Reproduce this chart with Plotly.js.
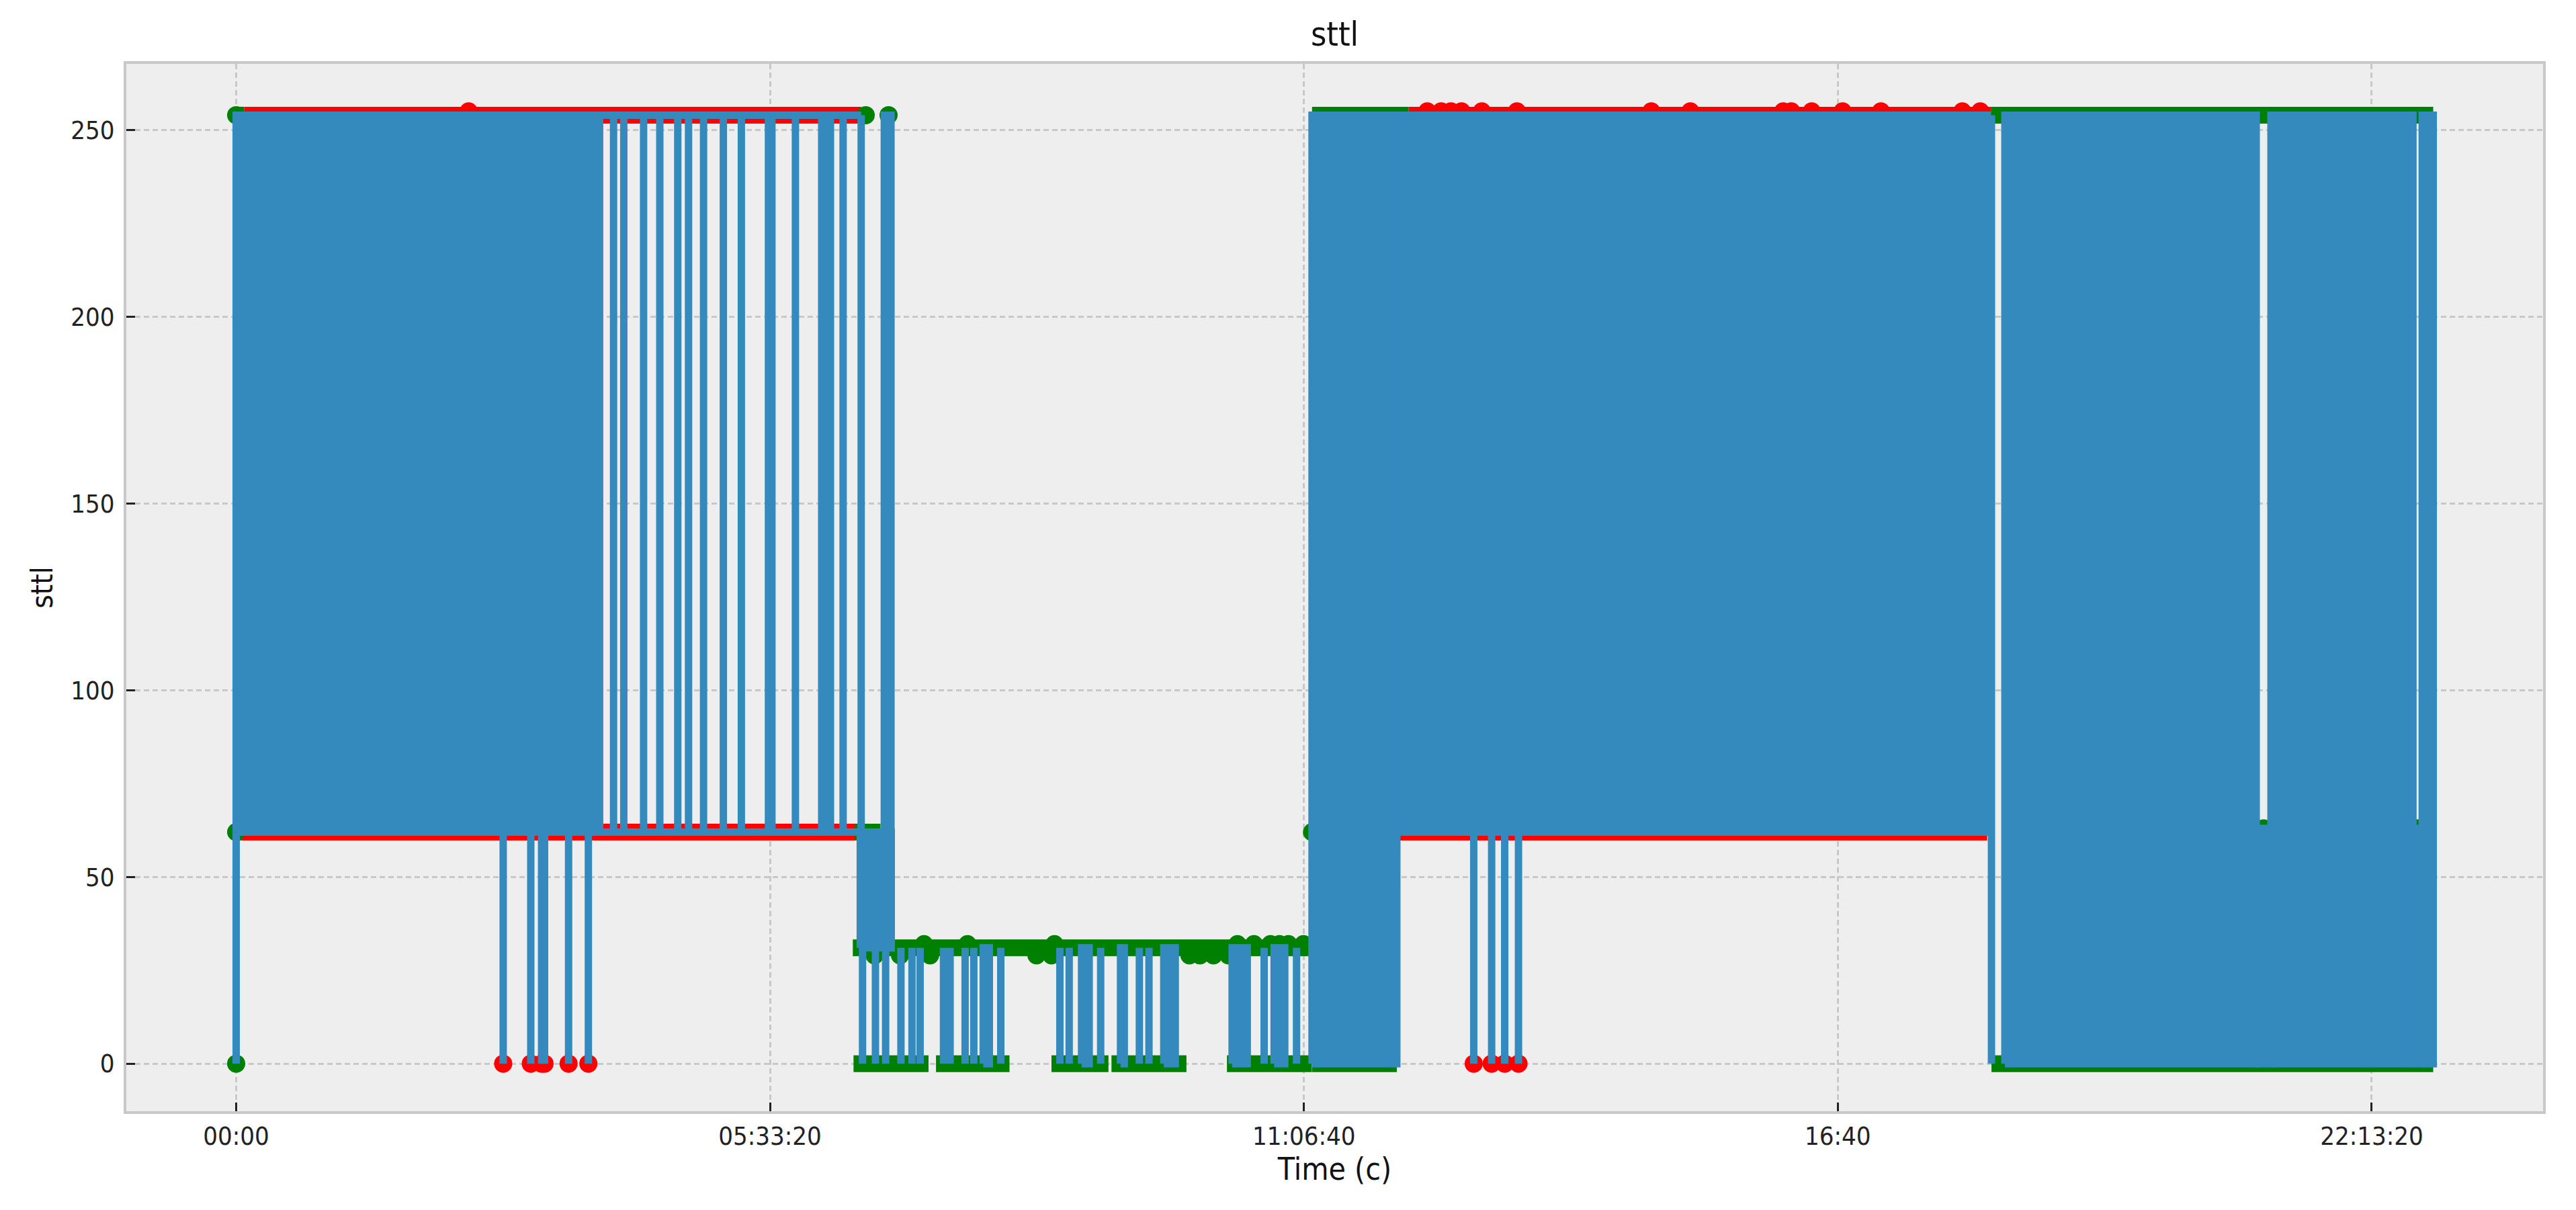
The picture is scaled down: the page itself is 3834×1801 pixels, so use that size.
<!DOCTYPE html>
<html>
<head>
<meta charset="utf-8">
<script src="https://cdn.plot.ly/plotly-3.0.1.min.js"></script>
<style>
  html, body { margin: 0; padding: 0; background: #fff; }
  #chart { width: 3834px; height: 1801px; }
</style>
</head>
<body>
<div id="chart"></div>
<script>
// time of day in seconds (x) and sttl (y)
const tickSeconds = [0, 20000, 40000, 60000, 80000];
const tickLabels = ["00:00", "05:33:20", "11:06:40", "16:40", "22:13:20"];

// stretches where sttl flips so often the line turns into a solid block
const blockStart = [0, 21935, 23380, 24280, 27985, 31670, 33130, 34750, 37310, 38883, 40304, 43480, 66259, 75674, 76227, 81545, 81893];
const blockEnd   = [13615, 22263, 24540, 24530, 28215, 31956, 33270, 35180, 37877, 39282, 43480, 65594, 75674, 76227, 81545, 81893, 82305];
const blockLow   = [62, 62, 31, 31, 0, 0, 0, 0, 0, 0, 0, 62, 0, 0, 0, 0, 0];
const blockHigh  = [254, 254, 62, 254, 31, 31, 31, 31, 31, 31, 254, 254, 254, 63, 254, 63, 254];

// single jumps of the line
const spikeTime = [0,
  10003, 11037, 11442, 11553, 12453, 13194,
  14138, 14521, 15263, 15870, 16543, 16947, 17509, 18251, 18925, 19940, 20070, 20950, 22737, 23414,
  23465, 23948, 24330, 24903, 25318, 25622, 26498, 26745, 27307, 27633, 28644, 30858, 31206, 32386, 33835, 34195, 38510, 39723,
  46361, 47032, 47521, 48038,
  65756];
const spikeLow = [0,
  0, 0, 0, 0, 0, 0,
  62, 62, 62, 62, 62, 62, 62, 62, 62, 62, 62, 62, 62, 62,
  0, 0, 0, 0, 0, 0, 0, 0, 0, 0, 0, 0, 0, 0, 0, 0, 0, 0,
  0, 0, 0, 0,
  0];
const spikeHigh = [62,
  62, 62, 62, 62, 62, 62,
  254, 254, 254, 254, 254, 254, 254, 254, 254, 254, 254, 254, 254, 254,
  31, 31, 31, 31, 31, 31, 31, 31, 31, 31, 31, 31, 31, 31, 31, 31, 31, 31,
  62, 62, 62, 62,
  254];

// long flat runs of the line
const flatStart = [13615, 13615];
const flatEnd   = [23414, 23414];
const flatLevel = [254, 62];

// rows of markers packed so tight they merge into a band
const rowStart = [0, 300, 0, 200, 23180, 23100, 23127, 26217, 30543, 32790, 37116, 40304, 40304, 43480, 43600, 43918, 65733, 65756];
const rowEnd   = [300, 23414, 200, 23300, 24138, 40304, 25937, 28970, 32678, 35599, 40296, 43918, 43480, 43600, 65594, 65733, 82305, 82305];
const rowLevel = [254, 254, 62, 62, 62, 31, 0, 0, 0, 0, 0, 254, 0, 62, 62, 254, 254, 0];
const rowLabel = ["normal", "attack", "normal", "attack", "normal", "normal", "normal", "normal", "normal", "normal", "normal",
  "normal", "normal", "normal", "attack", "attack", "normal", "normal"];

// markers that stand on their own
const pointTime = [0, 0, 0, 23584, 24440, 40304, 75950, 81720,
  23914, 24869, 25993, 29981, 30543, 35712, 36105, 36611, 37172,
  25768, 27397, 30656, 37510, 38128, 38746, 39083, 39420, 39981,
  8709, 44621, 45140, 45507, 45903, 46666, 47979, 53012, 54476, 57953, 58258, 59021, 60180, 61615, 64665, 65336,
  10003, 11037, 11442, 11553, 12453, 13194, 46361, 47032, 47521, 48038];
const pointValue = [0, 62, 254, 254, 254, 62, 63, 63,
  29, 29, 29, 29, 29, 29, 29, 29, 29,
  32, 32, 32, 32, 32, 32, 32, 32, 32,
  255, 255, 255, 255, 255, 255, 255, 255, 255, 255, 255, 255, 255, 255, 255, 255,
  0, 0, 0, 0, 0, 0, 0, 0, 0, 0];
const pointLabel = [].concat(
  Array(8).fill("normal"), Array(9).fill("normal"), Array(9).fill("normal"),
  Array(16).fill("attack"), Array(10).fill("attack"));

const BLUE = "#348ABD";
const labelColor = {attack: "red", normal: "green"};
const FONT = "DejaVu Sans Condensed, DejaVu Sans, sans-serif";

let traces = [];

// marker bands first, the blue line is drawn over them
for (const lab of ["attack", "normal"]) {
  let xs = [], ys = [];
  for (let i = 0; i < rowStart.length; i++) {
    if (rowLabel[i] !== lab) continue;
    xs.push(rowStart[i], rowEnd[i], null);
    ys.push(rowLevel[i], rowLevel[i], null);
  }
  traces.push({x: xs, y: ys, mode: "lines", line: {color: labelColor[lab], width: 25}, hoverinfo: "skip"});
}
for (const lab of ["attack", "normal"]) {
  let xs = [], ys = [];
  for (let i = 0; i < pointTime.length; i++) {
    if (pointLabel[i] !== lab) continue;
    xs.push(pointTime[i]);
    ys.push(pointValue[i]);
  }
  traces.push({x: xs, y: ys, mode: "markers", marker: {color: labelColor[lab], size: 27}});
}

// blue blocks
let bx = [], by = [];
for (let i = 0; i < blockStart.length; i++) {
  bx.push(blockStart[i], blockEnd[i], blockEnd[i], blockStart[i], blockStart[i], null);
  by.push(blockLow[i], blockLow[i], blockHigh[i], blockHigh[i], blockLow[i], null);
}
traces.push({x: bx, y: by, mode: "lines", fill: "toself", fillcolor: BLUE, line: {color: BLUE, width: 11}});

// blue spikes and flat runs
let lx = [], ly = [];
for (let i = 0; i < spikeTime.length; i++) {
  lx.push(spikeTime[i], spikeTime[i], null);
  ly.push(spikeLow[i], spikeHigh[i], null);
}
for (let i = 0; i < flatStart.length; i++) {
  lx.push(flatStart[i], flatEnd[i], null);
  ly.push(flatLevel[i], flatLevel[i], null);
}
traces.push({x: lx, y: ly, mode: "lines", line: {color: BLUE, width: 11}});

const lastT = 82305;
const axisCommon = {
  showgrid: true, gridcolor: "#c8c8c8", gridwidth: 3, griddash: "8px,5px",
  showline: true, mirror: true, linecolor: "#c8c8c8", linewidth: 4,
  zeroline: false, ticks: "inside", ticklen: 13, tickwidth: 3, tickcolor: "#222",
  tickfont: {family: FONT, size: 38, color: "#222"}
};

const layout = {
  width: 3834, height: 1801,
  margin: {l: 188, r: 49, t: 95, b: 147},
  paper_bgcolor: "#ffffff", plot_bgcolor: "#eeeeee",
  showlegend: false,
  title: {text: "sttl", font: {family: FONT, size: 50, color: "#111"}, x: 0.5, xref: "paper", xanchor: "center",
          y: 0.972, yref: "container", yanchor: "middle"},
  xaxis: Object.assign({}, axisCommon, {
    range: [-0.05 * lastT, 1.05 * lastT],
    tickvals: tickSeconds, ticktext: tickLabels,
    ticklabelstandoff: 0,
    title: {text: "Time (c)", font: {family: FONT, size: 46, color: "#111"}, standoff: 6}
  }),
  yaxis: Object.assign({}, axisCommon, {
    range: [-12.75, 267.75],
    tickvals: [0, 50, 100, 150, 200, 250],
    ticklabelstandoff: 6,
    title: {text: "sttl", font: {family: FONT, size: 44, color: "#111"}, standoff: 14}
  })
};

Plotly.newPlot("chart", traces, layout, {staticPlot: true});
</script>
</body>
</html>
